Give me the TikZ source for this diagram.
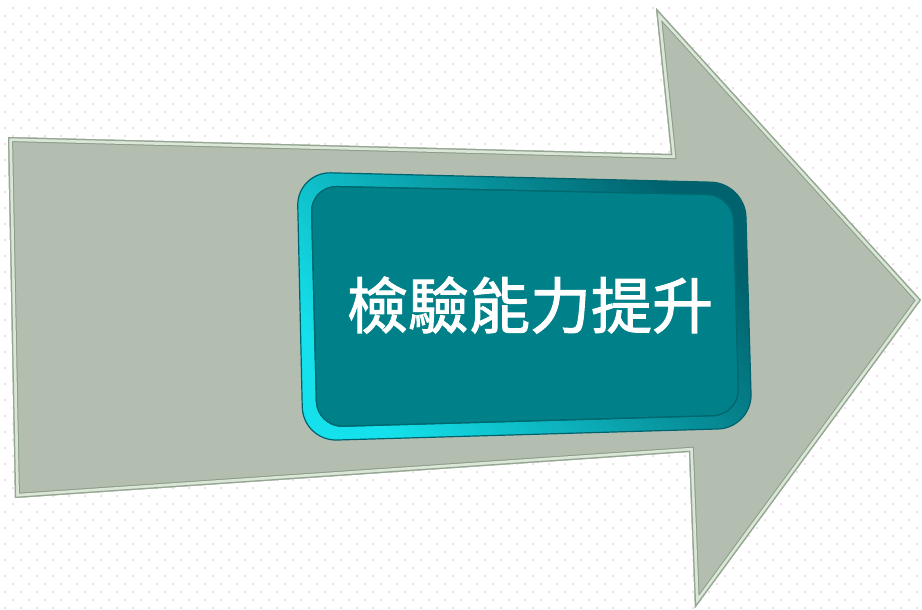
\documentclass[tikz,border=0pt]{standalone}
\usepackage{fontspec}
\newfontfamily\cjk[RawFeature={embolden=1.6}]{Noto Sans CJK TC}
\definecolor{dotpink}{RGB}{242,222,232}
\definecolor{arrowgray}{RGB}{179,190,177}
\definecolor{arrowdark}{RGB}{140,156,138}
\definecolor{arrowlight}{RGB}{218,230,214}
\definecolor{arrowedge}{RGB}{150,166,148}
\definecolor{rimdark}{RGB}{0,98,108}
\definecolor{rimbright}{RGB}{20,225,235}
\definecolor{tealface}{RGB}{0,129,137}
\definecolor{facedark}{RGB}{0,105,112}
\begin{document}
\begin{tikzpicture}[
                        x=1pt, y=-1pt,
                        arrowbody/.style={fill=arrowgray},
                        panelrim/.style={rounded corners=34, top color=rimdark, bottom color=rimbright, shading angle=-50},
                        panelface/.style={rounded corners=26, fill=tealface, draw=facedark, line width=1.2},
                        labeltext/.style={text=white, font=\cjk\fontsize{61}{61}\selectfont, inner sep=0pt}
                    ]
                    \useasboundingbox (0,0) rectangle (922,610);
                    % Background dots
                    \foreach \i in {0,...,57}
                        \foreach \j in {0,...,38} {
                            \fill[dotpink] (12+16*\i,7+16*\j) rectangle +(2,2);
                            \fill[dotpink] (4+16*\i,15+16*\j) rectangle +(2,2);
                        }

                    % Arrow
                    \coordinate (tl) at (8,137);
                    \coordinate (ntop) at (671,154);
                    \coordinate (htop) at (656,8);
                    \coordinate (tip) at (921,300);
                    \coordinate (hbot) at (695,608);
                    \coordinate (nbot) at (689,452);
                    \coordinate (bl) at (15,498);
                    \fill[arrowbody] (tl) -- (ntop) -- (htop) -- (tip) -- (hbot) -- (nbot) -- (bl) -- cycle;
                    \begin{scope}
                        \clip (tl) -- (ntop) -- (htop) -- (tip) -- (hbot) -- (nbot) -- (bl) -- cycle;
                        \foreach \w/\c in {10/arrowdark, 8/arrowlight, 2.5/arrowedge}
                            \draw[line width=\w, \c] (tl) -- (ntop) -- (htop) -- (tip) -- (hbot) -- (nbot) -- (bl) -- cycle;
                    \end{scope}

                    % Panel
                    \coordinate (p1) at (297,172);
                    \coordinate (p2) at (745,183);
                    \coordinate (p3) at (752,428);
                    \coordinate (p4) at (303,441);
                    \coordinate (q1) at (311,186);
                    \coordinate (q2) at (733,195);
                    \coordinate (q3) at (739,415);
                    \coordinate (q4) at (317,427);
                    \shade[panelrim] (p1) -- (p2) -- (p3) -- (p4) -- cycle;
                    \draw[rimdark, line width=1.2, rounded corners=34] (p1) -- (p2) -- (p3) -- (p4) -- cycle;
                    \fill[panelface] (q1) -- (q2) -- (q3) -- (q4) -- cycle;
                    \draw[panelface, fill=none] (q1) -- (q2) -- (q3) -- (q4) -- cycle;

                    % Label
                    \node[labeltext] (title) at (530,305) {檢驗能力提升};
                \end{tikzpicture}
\end{document}
